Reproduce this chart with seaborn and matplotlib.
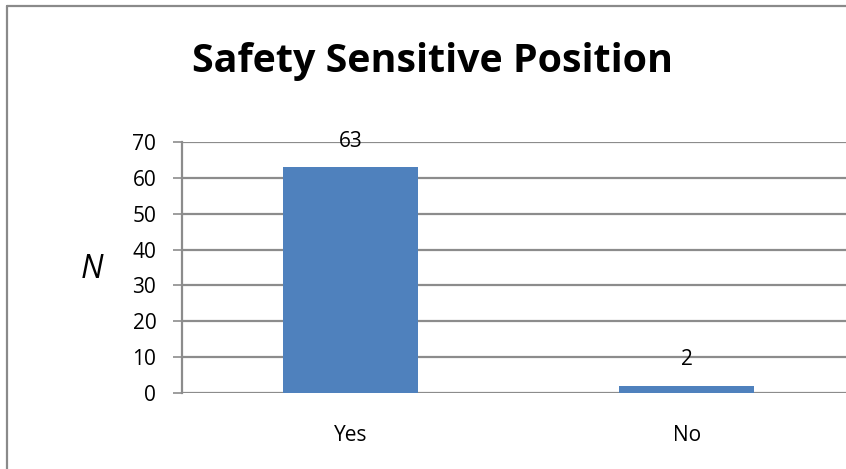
import matplotlib
matplotlib.use("Agg")
import matplotlib.pyplot as plt
import seaborn as sns
import pandas as pd
from matplotlib.lines import Line2D

categories = ["Yes", "No"]
counts = [63, 2]
y_ticks = [0, 10, 20, 30, 40, 50, 60, 70]
title = "Safety Sensitive Position"
y_label = "N"

sns.set_theme(style="white")
plt.rcParams["font.family"] = ["Open Sans", "DejaVu Sans"]

W, H = 846, 469
fig = plt.figure(figsize=(W / 100, H / 100), dpi=100)
fig.patch.set_facecolor("white")

# axes in pixel geometry
left, right, top, bottom = 182, 855, 142, 393
ax = fig.add_axes([left / W, (H - bottom) / H, (right - left) / W, (bottom - top) / H])

df = pd.DataFrame({"cat": categories, "n": counts})
sns.barplot(data=df, x="cat", y="n", order=categories, color="#4F81BD",
            saturation=1, width=0.4, linewidth=0, ax=ax)

ax.set_xlim(-0.5, 1.5)
ax.set_ylim(0, 70)
ax.set_yticks(y_ticks)
ax.yaxis.grid(True, color="#8C8C8C", linewidth=1.6)
ax.set_axisbelow(True)
for s in ["top", "right", "bottom"]:
    ax.spines[s].set_visible(False)
ax.spines["left"].set_color("#8C8C8C")
ax.spines["left"].set_linewidth(1.6)
ax.tick_params(axis="y", which="major", left=True, length=6.5, width=1.2,
               color="#8C8C8C", pad=12, labelsize=15, labelcolor="black")
ax.tick_params(axis="x", length=0, pad=23, labelsize=15, labelcolor="black")
ax.set_xlabel("")
ax.set_ylabel("")

for i, v in enumerate(counts):
    ax.annotate(str(v), xy=(i, v), xytext=(0, 18.7), textcoords="offset points",
                ha="center", va="center", fontsize=15, color="black")

fig.text(432 / W, 1 - 72 / H, title, ha="center", va="baseline",
         fontsize=28.4, fontweight="bold", color="black")
fig.text(92 / W, 1 - 270 / H, y_label, ha="center", va="center",
         fontsize=23, fontstyle="italic", color="black")

# outer chart frame (only top and left edges are inside the picture)
fx, fy = 7 / W, 1 - 6 / H
fig.add_artist(Line2D([fx, 1.01], [fy, fy], transform=fig.transFigure,
                      color="#8A8A8A", linewidth=1.6))
fig.add_artist(Line2D([fx, fx], [-0.01, fy], transform=fig.transFigure,
                      color="#8A8A8A", linewidth=1.6))

fig.savefig("out.png", dpi=100)
